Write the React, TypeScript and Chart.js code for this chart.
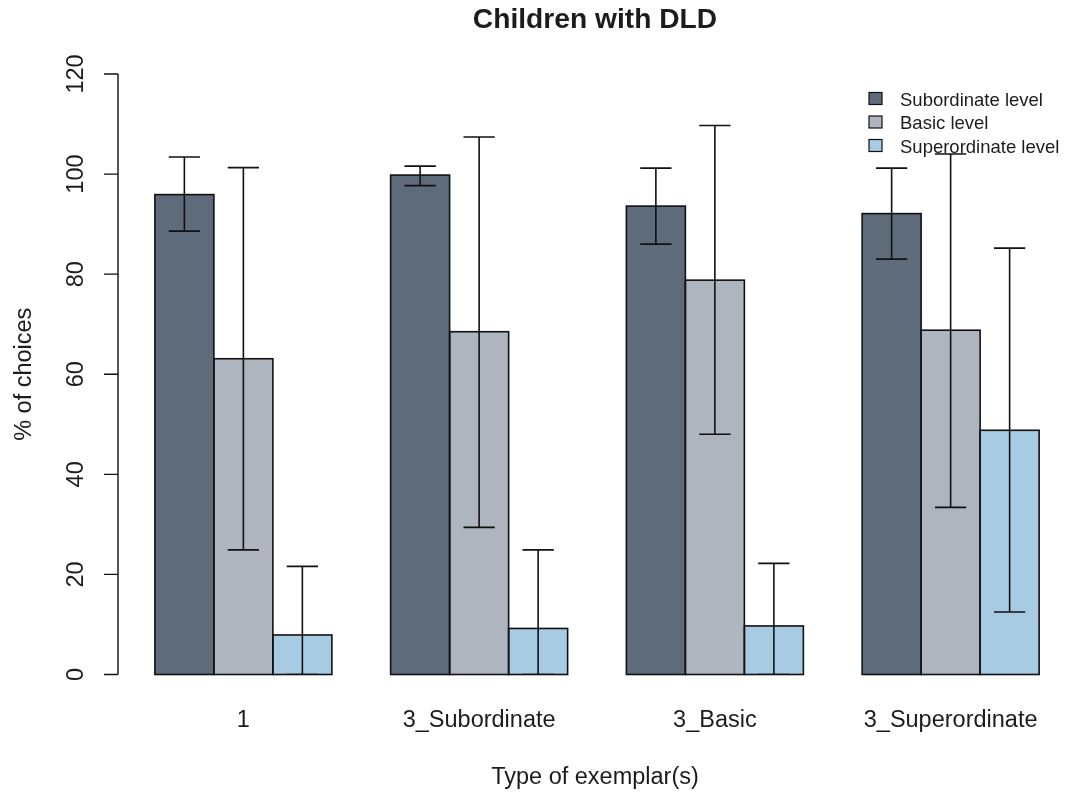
import React, { useEffect, useRef } from "react";
import { Chart, registerables } from "chart.js";

Chart.register(...registerables);

// Groups along the x axis
const categories = ["1", "3_Subordinate", "3_Basic", "3_Superordinate"];
const seriesNames = ["Subordinate level", "Basic level", "Superordinate level"];
const seriesColors = ["#5d6b7b", "#aeb5bf", "#a7cbe3"];

// Mean % of choices per level, with the lower/upper ends of each error bar
const subordinateMeans = [95.9, 99.8, 93.6, 92.1];
const subordinateLow = [88.6, 97.7, 86.0, 83.0];
const subordinateHigh = [103.4, 101.6, 101.2, 101.2];

const basicMeans = [63.1, 68.5, 78.8, 68.8];
const basicLow = [24.9, 29.4, 48.0, 33.4];
const basicHigh = [101.3, 107.4, 109.7, 104.0];

const superordinateMeans = [7.9, 9.2, 9.7, 48.8];
const superordinateLow = [0, 0, 0, 12.5];
const superordinateHigh = [21.6, 24.9, 22.2, 85.2];

const yTicks = [0, 20, 40, 60, 80, 100, 120];

const titleText = "Children with DLD";
const xTitle = "Type of exemplar(s)";
const yTitle = "% of choices";

const FONT = '"Liberation Sans", Arial, sans-serif';
const INK = "#1c1c1c";

// the drawing surface is a little wider than the visible frame so the
// last group's right-hand gap can run past the edge
const CANVAS_W = 1070;
const FRAME_W = 1065;
const FRAME_H = 792;

const lows = [subordinateLow, basicLow, superordinateLow];
const highs = [subordinateHigh, basicHigh, superordinateHigh];

// Draws bar outlines, error bars, axes, labels and legend in base-graphics style
const decorations = {
  id: "decorations",
  afterDatasetsDraw(chart: any) {
    const ctx = chart.ctx as CanvasRenderingContext2D;
    const area = chart.chartArea;
    const yScale = chart.scales.y;
    const xScale = chart.scales.x;

    ctx.save();
    ctx.strokeStyle = "#111";
    ctx.lineWidth = 1.6;

    // bar outlines (shared edges between neighbouring bars)
    chart.data.datasets.forEach((_: any, d: number) => {
      const meta = chart.getDatasetMeta(d);
      meta.data.forEach((bar: any) => {
        const w = bar.width;
        ctx.strokeRect(bar.x - w / 2, bar.y, w, bar.base - bar.y);
      });
    });

    // error bars, clipped to the plotting area
    ctx.save();
    ctx.beginPath();
    ctx.rect(area.left, area.top - 40, area.right - area.left, area.bottom - area.top + 40);
    ctx.clip();
    chart.data.datasets.forEach((_: any, d: number) => {
      const meta = chart.getDatasetMeta(d);
      meta.data.forEach((bar: any, i: number) => {
        const yLo = yScale.getPixelForValue(lows[d][i]);
        const yHi = yScale.getPixelForValue(highs[d][i]);
        const cap = bar.width * 0.265;
        ctx.beginPath();
        ctx.moveTo(bar.x, yLo);
        ctx.lineTo(bar.x, yHi);
        ctx.moveTo(bar.x - cap, yHi);
        ctx.lineTo(bar.x + cap, yHi);
        ctx.moveTo(bar.x - cap, yLo);
        ctx.lineTo(bar.x + cap, yLo);
        ctx.stroke();
      });
    });
    ctx.restore();

    // y axis
    const axisX = area.left - 7.5;
    ctx.lineWidth = 1.4;
    ctx.beginPath();
    ctx.moveTo(axisX, yScale.getPixelForValue(yTicks[0]));
    ctx.lineTo(axisX, yScale.getPixelForValue(yTicks[yTicks.length - 1]));
    yTicks.forEach((t) => {
      const y = yScale.getPixelForValue(t);
      ctx.moveTo(axisX, y);
      ctx.lineTo(axisX - 14, y);
    });
    ctx.stroke();

    ctx.fillStyle = INK;
    ctx.font = `23.5px ${FONT}`;
    ctx.textAlign = "center";
    ctx.textBaseline = "alphabetic";
    yTicks.forEach((t) => {
      const y = yScale.getPixelForValue(t);
      ctx.save();
      ctx.translate(83, y);
      ctx.rotate(-Math.PI / 2);
      ctx.fillText(String(t), 0, 0);
      ctx.restore();
    });

    // group labels
    categories.forEach((c, i) => {
      ctx.fillText(c, xScale.getPixelForValue(i), 727);
    });

    const midX = (area.left + area.right) / 2 - 2;

    // axis titles
    ctx.fillText(xTitle, midX, 784);
    ctx.save();
    ctx.translate(31, (area.top + area.bottom) / 2);
    ctx.rotate(-Math.PI / 2);
    ctx.fillText(yTitle, 0, 0);
    ctx.restore();

    // main title
    ctx.font = `bold 28.2px ${FONT}`;
    ctx.fillText(titleText, midX, 28);

    // legend
    ctx.font = `18.5px ${FONT}`;
    ctx.textAlign = "left";
    ctx.lineWidth = 1.2;
    seriesNames.forEach((name, k) => {
      const cy = 98.5 + k * 23.5;
      ctx.fillStyle = seriesColors[k];
      ctx.fillRect(869, cy - 6, 13, 12);
      ctx.strokeRect(869, cy - 6, 13, 12);
      ctx.fillStyle = INK;
      ctx.fillText(name, 900, cy + 7);
    });

    ctx.restore();
  },
};

export default function App() {
  const canvasRef = useRef<HTMLCanvasElement | null>(null);

  useEffect(() => {
    const canvas = canvasRef.current;
    if (!canvas) return;
    const means = [subordinateMeans, basicMeans, superordinateMeans];
    const chart = new Chart(canvas, {
      type: "bar",
      data: {
        labels: categories,
        datasets: seriesNames.map((name, k) => ({
          label: name,
          data: means[k],
          backgroundColor: seriesColors[k],
          borderWidth: 0,
          barPercentage: 1,
          categoryPercentage: 0.7508,
        })),
      },
      options: {
        animation: false,
        responsive: false,
        maintainAspectRatio: false,
        layout: { padding: { left: 125.5, right: CANVAS_W - 1068.5, top: 74, bottom: 117.5 } },
        scales: {
          x: { display: false },
          y: { display: false, min: 0, max: 120 },
        },
        plugins: {
          legend: { display: false },
          title: { display: false },
          tooltip: { enabled: false },
        },
      },
      plugins: [decorations],
    });
    return () => chart.destroy();
  }, []);

  return (
    <div
      style={{
        position: "fixed",
        left: 0,
        top: 0,
        width: FRAME_W,
        height: FRAME_H,
        overflow: "hidden",
        background: "#ffffff",
      }}
    >
      <canvas
        ref={canvasRef}
        width={CANVAS_W}
        height={FRAME_H}
        style={{ display: "block", width: CANVAS_W, height: FRAME_H }}
      />
    </div>
  );
}
